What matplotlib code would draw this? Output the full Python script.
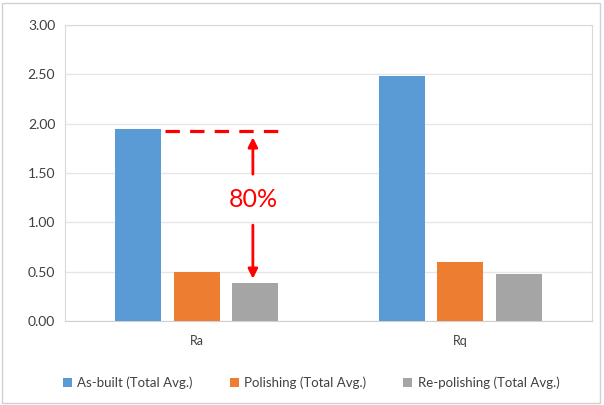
import numpy as np
import matplotlib.pyplot as plt
from matplotlib.patches import Rectangle

plt.rcParams['font.family'] = ['Lato', 'DejaVu Sans']

# dados
categorias = ["Ra", "Rq"]
series = ["As-built (Total Avg.)", "Polishing (Total Avg.)", "Re-polishing (Total Avg.)"]
as_built = [1.95, 2.48]
polishing = [0.50, 0.60]
re_polishing = [0.39, 0.48]
cores = ["#5B9BD5", "#ED7D31", "#A5A5A5"]
yticks = [0.0, 0.5, 1.0, 1.5, 2.0, 2.5, 3.0]

fig = plt.figure(figsize=(6.04, 4.05), dpi=100)
ax = fig.add_axes([65/604, 84/405, 527/604, 296/405])

x = np.arange(len(categorias))
largura = 0.175
passo = 0.222
for i, (vals, cor, nome) in enumerate(zip([as_built, polishing, re_polishing], cores, series)):
    ax.bar(x + (i - 1) * passo, vals, largura, color=cor, label=nome, zorder=3)

ax.set_xlim(-0.5, 1.5)
ax.set_ylim(0, 3)
ax.set_yticks(yticks)
ax.set_yticklabels([f"{v:.2f}" for v in yticks], fontsize=10, color="#404040")
ax.set_xticks(x)
ax.set_xticklabels(categorias, fontsize=9, color="#404040")
ax.tick_params(length=0, pad=7)
ax.tick_params(axis="x", pad=10)
ax.yaxis.grid(True, color="#E6E6E6", lw=1, zorder=0)
for s in ax.spines.values():
    s.set_color("#D9D9D9")
ax.spines["bottom"].set_color("#D0D0D0")

# anotação de redução (80%)
ax.plot([-0.12, 0.316], [1.93, 1.93], color="#FF0000", lw=2.3, ls=(0, (4.5, 3.2)), zorder=4)
xa = passo - 0.009
ax.annotate("", xy=(xa, 1.89), xytext=(xa, 1.46),
            arrowprops=dict(arrowstyle="-|>", color="#FF0000", lw=2, mutation_scale=14), zorder=4)
ax.annotate("", xy=(xa, 0.40), xytext=(xa, 1.00),
            arrowprops=dict(arrowstyle="-|>", color="#FF0000", lw=2, mutation_scale=14), zorder=4)
ax.text(xa, 1.23, "80%", color="#FF0000", fontsize=18, ha="center", va="center", zorder=4)

fig.legend(loc="center", bbox_to_anchor=(0.515, 1 - 383/405), ncol=3, frameon=False,
           fontsize=9.5, handlelength=0.7, handleheight=0.7, handletextpad=0.4,
           columnspacing=2.8, labelcolor="#404040")

fig.patches.append(Rectangle((2/604, 2/405), 598/604, 400/405, transform=fig.transFigure,
                             fill=False, edgecolor="#D0D0D0", lw=1))

fig.savefig("out.png", dpi=100)
